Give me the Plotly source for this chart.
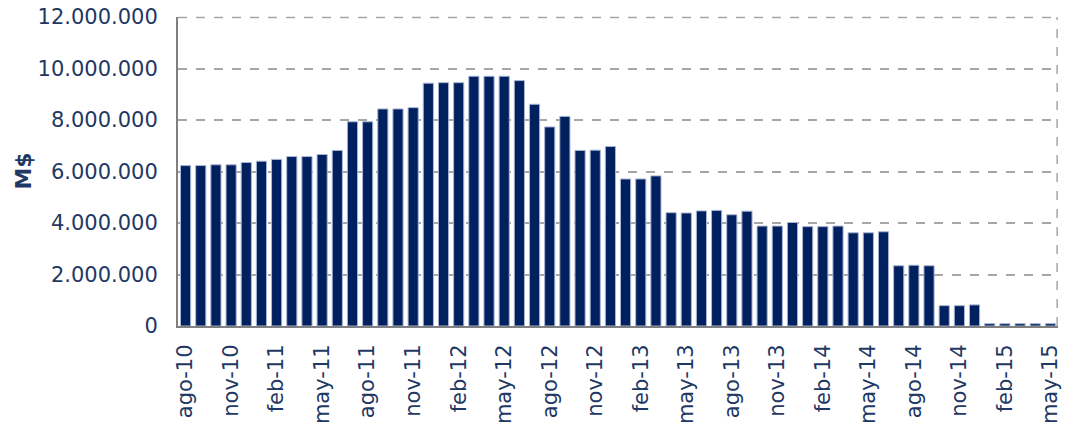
import plotly.graph_objects as go

months = ["ene", "feb", "mar", "abr", "may", "jun", "jul", "ago", "sep", "oct", "nov", "dic"]
categories = []
y, m = 2010, 7
for _ in range(58):
    categories.append(f"{months[m]}-{str(y)[2:]}")
    m += 1
    if m == 12:
        m = 0
        y += 1

values = [
    6.23, 6.23, 6.26, 6.26, 6.35, 6.40, 6.47, 6.58, 6.58, 6.66,
    6.82, 7.93, 7.93, 8.43, 8.43, 8.48, 9.43, 9.45, 9.45, 9.70,
    9.70, 9.70, 9.53, 8.61, 7.73, 8.14, 6.82, 6.83, 6.97, 5.71,
    5.71, 5.83, 4.40, 4.39, 4.47, 4.49, 4.32, 4.46, 3.88, 3.88,
    4.02, 3.86, 3.86, 3.88, 3.62, 3.62, 3.66, 2.34, 2.36, 2.34,
    0.79, 0.79, 0.82, 0.09, 0.09, 0.09, 0.09, 0.09,
]
values = [v * 1_000_000 for v in values]

tick_labels = categories[::3]
y_ticks = [0, 2_000_000, 4_000_000, 6_000_000, 8_000_000, 10_000_000, 12_000_000]

navy = "#002060"
text_color = "#1f3864"
grid = "#a6a6a6"

fig = go.Figure(
    go.Bar(
        x=categories,
        y=values,
        marker=dict(color=navy, line=dict(color="#a9b6d3", width=1)),
    )
)

fig.update_layout(
    width=1065,
    height=423,
    margin=dict(l=178, r=7, t=17, b=97),
    plot_bgcolor="white",
    paper_bgcolor="white",
    bargap=0.33,
    separators=",.",
    showlegend=False,
    font=dict(family="DejaVu Sans", color=text_color, size=21),
)

fig.update_xaxes(
    type="category",
    tickmode="array",
    tickvals=tick_labels,
    ticktext=tick_labels,
    tickangle=-90,
    tickfont=dict(size=21, color=text_color),
    showgrid=False,
    showline=True,
    linecolor="#808080",
    linewidth=2,
    ticks="",
    ticklabelstandoff=8,
    automargin=False,
    range=[-0.5, 57.5],
)

fig.update_yaxes(
    range=[0, 12_000_000],
    tickvals=y_ticks,
    tickformat=",d",
    tickfont=dict(size=21, color=text_color),
    showgrid=True,
    gridcolor=grid,
    griddash="dash",
    gridwidth=1.5,
    showline=True,
    linecolor="#808080",
    linewidth=2,
    zeroline=False,
    ticks="",
    ticklabelstandoff=14,
    automargin=False,
)

fig.add_annotation(
    text="<b>M$</b>", xref="paper", yref="paper", x=-0.176, y=0.5,
    textangle=-90, showarrow=False, xanchor="center", yanchor="middle",
    font=dict(size=22, color="#1f3864", family="DejaVu Sans"),
)

# top and right dashed borders of the plot area
fig.add_shape(
    type="line", xref="paper", yref="paper", x0=0.999, x1=0.999, y0=0, y1=1,
    line=dict(color=grid, width=1.5, dash="dash"), layer="above",
)
fig.add_shape(
    type="line", xref="paper", yref="paper", x0=0, x1=1, y0=0.998, y1=0.998,
    line=dict(color=grid, width=1.5, dash="dash"), layer="above",
)

fig.write_html(
    "out.html",
    config={"displayModeBar": False},
    post_script="document.body.style.margin='0';document.body.style.overflow='hidden';",
)
